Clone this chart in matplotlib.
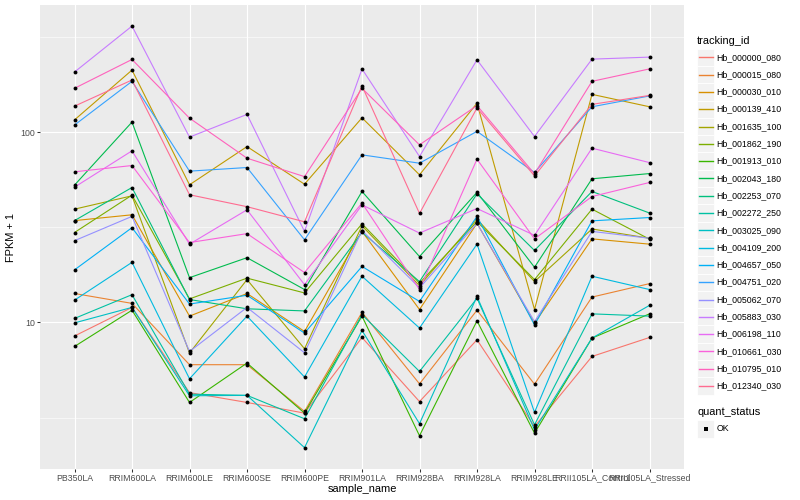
import numpy as np
import matplotlib
matplotlib.use("Agg")
import matplotlib.pyplot as plt
from matplotlib.lines import Line2D
from matplotlib.patches import Rectangle
from matplotlib.ticker import FixedLocator, NullFormatter

plt.rcParams['font.family'] = ['Liberation Sans', 'DejaVu Sans']

samples = ["PB350LA", "RRIM600LA", "RRIM600LE", "RRIM600SE", "RRIM600PE",
           "RRIM901LA", "RRIM928BA", "RRIM928LA", "RRIM928LE",
           "RRII105LA_Control", "RRII105LA_Stressed"]

tracking_ids = ["Hb_000000_080", "Hb_000015_080", "Hb_000030_010", "Hb_000139_410",
                "Hb_001635_100", "Hb_001862_190", "Hb_001913_010", "Hb_002043_180",
                "Hb_002253_070", "Hb_002272_250", "Hb_003025_090", "Hb_004109_200",
                "Hb_004657_050", "Hb_004751_020", "Hb_005062_070", "Hb_005883_030",
                "Hb_006198_110", "Hb_010661_030", "Hb_010795_010", "Hb_012340_030"]

# FPKM + 1 values per gene, in sample order
hb_000000_080 = [8.49, 12.0, 4.28, 3.80, 3.34, 8.34, 3.84, 8.11, 2.84, 6.63, 8.34]
hb_000015_080 = [14.2, 12.6, 6.00, 6.00, 3.41, 11.3, 4.76, 11.6, 4.74, 13.6, 16.0]
hb_000030_010 = [34.3, 36.8, 10.8, 14.2, 8.97, 30.1, 11.7, 33.2, 9.9, 27.5, 25.8]
hb_000139_410 = [116, 212, 52.9, 84.0, 53.3, 119, 59.7, 142, 11.7, 158, 136]
hb_001635_100 = [39.4, 46.3, 6.91, 16.8, 7.28, 32.2, 15.6, 34.9, 16.4, 31.0, 27.7]
hb_001862_190 = [29.7, 46.7, 13.3, 17.1, 14.3, 33.0, 16.1, 33.9, 16.8, 39.4, 27.4]
hb_001913_010 = [7.48, 11.6, 3.80, 6.12, 3.34, 10.8, 2.54, 10.2, 2.62, 8.28, 11.1]
hb_002043_180 = [52.7, 113, 17.2, 21.9, 14.9, 48.8, 22.2, 48.3, 19.5, 56.9, 60.6]
hb_002253_070 = [34.3, 51.2, 13.2, 11.8, 11.5, 29.8, 16.4, 47.4, 23.9, 48.8, 37.6]
hb_002272_250 = [10.5, 14.0, 4.20, 4.14, 3.12, 11.0, 5.53, 13.4, 2.90, 11.1, 10.8]
hb_003025_090 = [9.95, 12.0, 4.12, 4.14, 2.20, 9.08, 2.94, 13.7, 2.73, 8.28, 12.3]
hb_004109_200 = [13.1, 20.7, 5.06, 10.8, 5.17, 17.5, 9.35, 25.8, 3.37, 17.5, 14.9]
hb_004657_050 = [18.9, 31.5, 12.5, 13.9, 8.80, 19.7, 12.9, 36.1, 9.7, 34.2, 35.6]
hb_004751_020 = [109, 185, 62.4, 65.2, 27.2, 76.0, 68.7, 101, 61.4, 136, 155]
hb_005062_070 = [26.9, 36.1, 7.04, 12.0, 6.93, 30.4, 15.2, 33.2, 10.1, 30.1, 27.7]
hb_005883_030 = [207, 361, 94.2, 124, 30.1, 215, 74.5, 240, 94.9, 242, 248]
hb_006198_110 = [51.4, 79.8, 25.8, 39.1, 15.8, 41.5, 29.5, 39.7, 28.7, 82.4, 69.2]
hb_010661_030 = [61.9, 66.8, 26.3, 29.3, 18.3, 42.4, 14.9, 72.1, 27.5, 45.9, 54.4]
hb_010795_010 = [170, 241, 118.5, 73.0, 58.4, 170, 85.8, 138, 60.4, 185, 215]
hb_012340_030 = [137, 188, 46.9, 40.6, 33.8, 175, 37.4, 134, 58.9, 140, 156]

quant_status = ["OK"]

series = [hb_000000_080, hb_000015_080, hb_000030_010, hb_000139_410, hb_001635_100,
          hb_001862_190, hb_001913_010, hb_002043_180, hb_002253_070, hb_002272_250,
          hb_003025_090, hb_004109_200, hb_004657_050, hb_004751_020, hb_005062_070,
          hb_005883_030, hb_006198_110, hb_010661_030, hb_010795_010, hb_012340_030]

palette = ["#F8766D", "#EA8331", "#D89000", "#C09B00", "#A3A500", "#7CAE00", "#39B600",
           "#00BB4E", "#00BF7D", "#00C1A3", "#00BFC4", "#00BAE0", "#00B0F6", "#35A2FF",
           "#9590FF", "#C77CFF", "#E76BF3", "#FA62DB", "#FF62BC", "#FF6C91"]

W, H = 800, 500
fig = plt.figure(figsize=(W / 100, H / 100), dpi=100)
fig.patch.set_facecolor("white")

def fx(x):
    return x / W

def fy(y):
    return 1 - y / H

left, right, top, bottom = 40, 684, 5, 468.7
ax = fig.add_axes([fx(left), fy(bottom), (right - left) / W, (bottom - top) / H])
ax.set_facecolor("#EBEBEB")
for s in ax.spines.values():
    s.set_visible(False)

x = np.arange(len(samples))
for vals, col in zip(series, palette):
    ax.plot(x, vals, color=col, lw=0.8, zorder=2, solid_capstyle="butt")
for vals in series:
    ax.plot(x, vals, linestyle="none", marker="o", ms=2.8, color="black",
            markeredgewidth=0, zorder=3)

ax.set_yscale("log")
allv = np.log10(np.concatenate([np.asarray(v, float) for v in series]))
lo, hi = allv.min(), allv.max()
pad = 0.05 * (hi - lo)
ax.set_ylim(10 ** (lo - pad), 10 ** (hi + pad))
ax.set_xlim(-0.6, len(samples) - 0.4)

ax.set_yticks([10, 100])
ax.set_yticklabels(["10", "100"])
ax.yaxis.set_minor_locator(FixedLocator([10 ** 0.5, 10 ** 1.5, 10 ** 2.5]))
ax.yaxis.set_minor_formatter(NullFormatter())
ax.set_xticks(x)
ax.set_xticklabels(samples)

ax.grid(True, which="major", color="white", lw=0.8)
ax.grid(True, which="minor", axis="y", color="white", lw=0.4)
ax.set_axisbelow(True)

ax.tick_params(axis="both", which="major", length=2.0, width=0.75, color="#333333",
               labelcolor="#4D4D4D", labelsize=6.3, pad=1.5)
ax.tick_params(axis="both", which="minor", length=0)

fig.text(fx(362), fy(489), "sample_name", ha="center", va="center", fontsize=7.9,
         color="black")
fig.text(fx(11), fy(237), "FPKM + 1", ha="center", va="center", rotation=90,
         fontsize=7.9, color="black")

# legend: tracking_id
fig.text(fx(697), fy(40.7), "tracking_id", ha="left", va="center", fontsize=7.9)
key = 17.3
for i, (name, col) in enumerate(zip(tracking_ids, palette)):
    yc = 57.3 + key * i
    fig.add_artist(Rectangle((fx(697), fy(yc + key / 2)), key / W, key / H,
                             facecolor="#F2F2F2", edgecolor="white", lw=0.6,
                             transform=fig.transFigure, zorder=1))
    fig.add_artist(Line2D([fx(698.7), fx(712.7)], [fy(yc), fy(yc)], color=col,
                          lw=1.0, transform=fig.transFigure, zorder=3))
    fig.text(fx(716.7), fy(yc), name, ha="left", va="center", fontsize=6.3)

# legend: quant_status
fig.text(fx(697), fy(412.3), "quant_status", ha="left", va="center", fontsize=7.9)
for j, st in enumerate(quant_status):
    yc = 428.9 + key * j
    fig.add_artist(Rectangle((fx(697), fy(yc + key / 2)), key / W, key / H,
                             facecolor="#F2F2F2", edgecolor="white", lw=0.6,
                             transform=fig.transFigure, zorder=1))
    fig.add_artist(Line2D([fx(705.6)], [fy(yc)], marker="s", ms=2.4, color="black",
                          markeredgewidth=0, linestyle="none",
                          transform=fig.transFigure, zorder=3))
    fig.text(fx(716.7), fy(yc), st, ha="left", va="center", fontsize=6.3)

fig.savefig("out.png", dpi=100)
